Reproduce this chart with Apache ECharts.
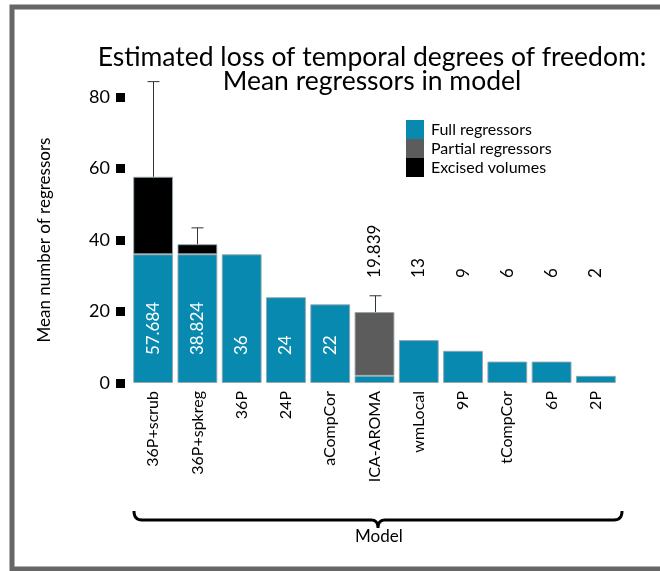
<!DOCTYPE html>
<html>
<head>
<meta charset="utf-8">
<script src="https://cdn.jsdelivr.net/npm/echarts@6/dist/echarts.min.js"></script>
<style>
  html, body { margin: 0; padding: 0; background: #fff; }
  #chart { width: 660px; height: 571px; }
</style>
</head>
<body>
<div id="chart"></div>
<script>
// 数据
const models = ['36P+scrub', '36P+spkreg', '36P', '24P', 'aCompCor', 'ICA-AROMA', 'wmLocal', '9P', 'tCompCor', '6P', '2P'];
const fullRegressors = [36, 36, 36, 24, 22, 2, 12, 9, 6, 6, 2];
const partialRegressors = [0, 0, 0, 0, 0, 17.839, 0, 0, 0, 0, 0];
const excisedVolumes = [21.684, 2.824, 0, 0, 0, 0, 0, 0, 0, 0, 0];
const valueLabels = ['57.684', '38.824', '36', '24', '22', '19.839', '13', '9', '6', '6', '2'];
// 误差线 (索引, 上限)
const errorIndex = [0, 1, 5];
const errorUpper = [84.3, 43.4, 24.4];
const yTicks = [0, 20, 40, 60, 80];

const FONT = 'Lato';
const blue = '#0789b0';
const gray = '#5c5c5c';

const chart = echarts.init(document.getElementById('chart'));

const noZero = arr => arr.map(v => (v === 0 ? '-' : v));
const totals = models.map((m, i) => fullRegressors[i] + partialRegressors[i] + excisedVolumes[i]);

const barStyle = color => ({
    color: color,
    borderColor: 'rgba(150,165,172,0.9)',
    borderWidth: 1
});

// 二次曲线取点 (括号用)
function quad(p0, p1, p2, n) {
    const pts = [];
    for (let k = 0; k <= n; k++) {
        const t = k / n;
        pts.push([
            (1 - t) * (1 - t) * p0[0] + 2 * (1 - t) * t * p1[0] + t * t * p2[0],
            (1 - t) * (1 - t) * p0[1] + 2 * (1 - t) * t * p1[1] + t * t * p2[1]
        ]);
    }
    return pts;
}
const bracePoints = [].concat(
    quad([134, 511], [134, 520], [142, 520], 8),
    quad([371, 520], [378, 520], [378, 528], 8),
    quad([378, 528], [378, 520], [385, 520], 8),
    quad([614, 520], [622, 520], [622, 511], 8)
);

const option = {
    animation: false,
    backgroundColor: '#fff',
    title: {
        text: 'Estimated loss of temporal degrees of freedom:\nMean regressors in model',
        left: 367,
        top: 40,
        textAlign: 'center',
        textStyle: {
            fontFamily: FONT,
            fontWeight: 'normal',
            fontSize: 26.5,
            lineHeight: 24,
            color: '#000'
        }
    },
    legend: {
        orient: 'vertical',
        left: 406,
        top: 120,
        padding: 0,
        itemGap: 0,
        itemWidth: 18,
        itemHeight: 19,
        icon: 'rect',
        itemStyle: { borderWidth: 0 },
        data: ['Full regressors', 'Partial regressors', 'Excised volumes'],
        textStyle: { fontFamily: FONT, fontSize: 16, color: '#000', padding: [0, 0, 0, 2] }
    },
    grid: {
        left: 131,
        right: 42,
        top: 97,
        bottom: 188
    },
    xAxis: {
        type: 'category',
        data: models,
        axisLine: { show: false },
        axisTick: { show: false },
        axisLabel: {
            rotate: 90,
            interval: 0,
            margin: 8,
            fontFamily: FONT,
            fontSize: 16,
            color: '#000'
        }
    },
    yAxis: {
        type: 'value',
        min: 0,
        max: 80,
        interval: 20,
        offset: 6,
        name: 'Mean number of regressors',
        nameLocation: 'middle',
        nameGap: 72,
        nameTextStyle: { fontFamily: FONT, fontSize: 17, color: '#000' },
        axisLine: { show: false },
        axisTick: { show: true, length: 9, lineStyle: { width: 9, color: '#000' } },
        splitLine: { show: false },
        axisLabel: {
            margin: 15,
            fontFamily: FONT,
            fontSize: 18,
            color: '#000',
            formatter: v => (yTicks.indexOf(v) >= 0 ? String(v) : '')
        }
    },
    series: [
        {
            name: 'Full regressors',
            type: 'bar',
            stack: 'total',
            barCategoryGap: '10%',
            itemStyle: barStyle(blue),
            data: noZero(fullRegressors)
        },
        {
            name: 'Partial regressors',
            type: 'bar',
            stack: 'total',
            itemStyle: barStyle(gray),
            data: noZero(partialRegressors)
        },
        {
            name: 'Excised volumes',
            type: 'bar',
            stack: 'total',
            itemStyle: barStyle('#000'),
            data: noZero(excisedVolumes)
        },
        // 误差线
        {
            type: 'custom',
            z: 5,
            data: errorIndex.map((idx, k) => [idx, errorUpper[k], totals[idx]]),
            renderItem: function (params, api) {
                const top = api.coord([api.value(0), api.value(1)]);
                const base = api.coord([api.value(0), api.value(2)]);
                const x = Math.round(top[0]) + 0.5;
                const st = { stroke: '#333', lineWidth: 1 };
                return {
                    type: 'group',
                    children: [
                        { type: 'line', shape: { x1: x, y1: top[1], x2: x, y2: base[1] }, style: st },
                        { type: 'line', shape: { x1: x - 6, y1: top[1], x2: x + 6, y2: top[1] }, style: st }
                    ]
                };
            }
        },
        // 数值标签
        {
            type: 'custom',
            z: 6,
            data: models.map((m, i) => [i, fullRegressors[i] > 20 ? 7.8 : 29.4]),
            renderItem: function (params, api) {
                const i = params.dataIndex;
                const p = api.coord([api.value(0), api.value(1)]);
                const inside = fullRegressors[i] > 20;
                return {
                    type: 'text',
                    x: p[0],
                    y: p[1],
                    rotation: Math.PI / 2,
                    style: {
                        text: valueLabels[i],
                        fill: inside ? '#fff' : '#000',
                        fontFamily: FONT,
                        fontSize: 17,
                        align: 'left',
                        verticalAlign: 'middle'
                    }
                };
            }
        }
    ],
    graphic: [
        // 外框
        {
            type: 'rect',
            silent: true,
            shape: { x: 12, y: 7, width: 700, height: 562 },
            style: { fill: null, stroke: '#666', lineWidth: 5 }
        },
        // 括号
        {
            type: 'polyline',
            silent: true,
            shape: { points: bracePoints },
            style: { fill: null, stroke: '#000', lineWidth: 3 }
        },
        {
            type: 'text',
            left: 355,
            top: 528,
            style: { text: 'Model', fontFamily: FONT, fontSize: 17, fill: '#000' }
        }
    ]
};

chart.setOption(option);
</script>
</body>
</html>
